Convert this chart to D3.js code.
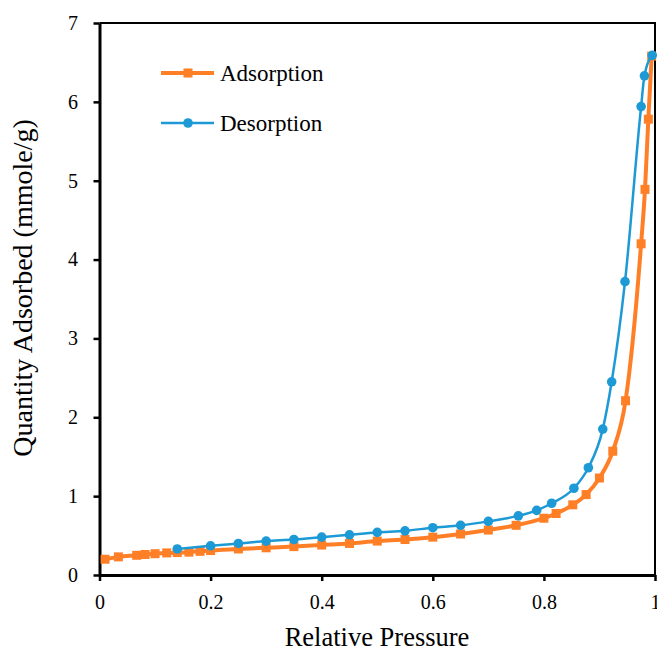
<!DOCTYPE html>
<html>
<head>
<meta charset="utf-8">
<script src="https://cdn.jsdelivr.net/npm/d3@7"></script>
<style>
  body { margin: 0; background: #fff; }
  text { font-family: "Liberation Serif", "Times New Roman", serif; }
</style>
</head>
<body>
<svg id="chart" width="657" height="651"></svg>
<script>
// isotherm data
const adsP = [0.01, 0.034, 0.067, 0.082, 0.1, 0.121, 0.14, 0.161, 0.181, 0.2, 0.25, 0.3, 0.35, 0.4, 0.45,
  0.5, 0.55, 0.6, 0.65, 0.7, 0.75, 0.8, 0.822, 0.852, 0.876, 0.9, 0.924, 0.947, 0.975, 0.982, 0.988, 0.994];
const adsQ = [0.2, 0.23, 0.25, 0.26, 0.27, 0.28, 0.285, 0.29, 0.3, 0.31, 0.33, 0.345, 0.36, 0.38, 0.4,
  0.43, 0.45, 0.48, 0.52, 0.57, 0.63, 0.72, 0.78, 0.89, 1.02, 1.23, 1.57, 2.21, 4.2, 4.89, 5.78, 6.58];
const desP = [0.14, 0.2, 0.25, 0.3, 0.35, 0.4, 0.45, 0.5, 0.55, 0.6, 0.65, 0.7, 0.754, 0.787, 0.814,
  0.854, 0.88, 0.906, 0.922, 0.946, 0.975, 0.981, 0.995];
const desQ = [0.33, 0.37, 0.4, 0.43, 0.45, 0.48, 0.51, 0.54, 0.56, 0.6, 0.63, 0.68, 0.75, 0.82, 0.91,
  1.1, 1.36, 1.85, 2.45, 3.72, 5.94, 6.33, 6.59];
const xTicks = [0, 0.2, 0.4, 0.6, 0.8, 1];
const yTicks = [0, 1, 2, 3, 4, 5, 6, 7];

const svg = d3.select("#chart");
const mLeft = 99.5, mRight = 655, mTop = 23, mBottom = 575;

const x = d3.scaleLinear().domain([0, 1]).range([mLeft, mRight]);
const y = d3.scaleLinear().domain([0, 7]).range([mBottom, mTop]);

const orange = "#FF7F27", blue = "#1D9AD6";
const serif = "'Liberation Serif', 'Times New Roman', serif";

// frame (top + right)
svg.append("path")
  .attr("d", `M${mLeft},${mTop}H${mRight}V${mBottom}`)
  .attr("fill", "none").attr("stroke", "#000").attr("stroke-width", 2);

const xAxis = svg.append("g").attr("transform", `translate(0,${mBottom})`)
  .call(d3.axisBottom(x).tickValues(xTicks).tickSize(6).tickSizeOuter(0).tickFormat(d3.format("")));
const yAxis = svg.append("g").attr("transform", `translate(${mLeft},0)`)
  .call(d3.axisLeft(y).tickValues(yTicks).tickSize(6).tickSizeOuter(0).tickFormat(d3.format("d")));

[xAxis, yAxis].forEach(g => {
  g.attr("font-family", serif);
  g.select(".domain").attr("stroke-width", 3);
  g.selectAll(".tick line").attr("stroke-width", 2.5);
  g.selectAll(".tick text").attr("font-size", 20).attr("fill", "#000");
});
xAxis.selectAll(".tick text").attr("y", 34).attr("dy", 0);
yAxis.selectAll(".tick text").attr("x", -21.5);

// axis titles
svg.append("text").attr("x", 377).attr("y", 646).attr("font-family", serif)
  .attr("text-anchor", "middle").attr("font-size", 26.5).text("Relative Pressure");
svg.append("text").attr("transform", "translate(32,288) rotate(-90)").attr("font-family", serif)
  .attr("text-anchor", "middle").attr("font-size", 28).text("Quantity Adsorbed (mmole/g)");

const line = d3.line().curve(d3.curveMonotoneX);

const ads = adsP.map((p, i) => [x(p), y(adsQ[i])]);
const des = desP.map((p, i) => [x(p), y(desQ[i])]);

svg.append("path").attr("d", line(ads)).attr("fill", "none")
  .attr("stroke", orange).attr("stroke-width", 4);
svg.append("g").selectAll("rect").data(ads).join("rect")
  .attr("x", d => d[0] - 4.5).attr("y", d => d[1] - 4.5)
  .attr("width", 9).attr("height", 9).attr("fill", orange);

svg.append("path").attr("d", line(des)).attr("fill", "none")
  .attr("stroke", blue).attr("stroke-width", 2.5);
svg.append("g").selectAll("circle").data(des).join("circle")
  .attr("cx", d => d[0]).attr("cy", d => d[1]).attr("r", 4.8).attr("fill", blue);

// legend
const legend = [
  { name: "Adsorption", color: orange, w: 4, shape: "rect", y: 73 },
  { name: "Desorption", color: blue, w: 2.5, shape: "circle", y: 123 }
];
legend.forEach(l => {
  svg.append("line").attr("x1", 161).attr("x2", 214).attr("y1", l.y).attr("y2", l.y)
    .attr("stroke", l.color).attr("stroke-width", l.w);
  if (l.shape === "rect")
    svg.append("rect").attr("x", 183.5).attr("y", l.y - 4.5).attr("width", 9).attr("height", 9).attr("fill", l.color);
  else
    svg.append("circle").attr("cx", 188).attr("cy", l.y).attr("r", 4.8).attr("fill", l.color);
  svg.append("text").attr("x", 220).attr("y", l.y + 7.5).attr("font-family", serif)
    .attr("font-size", 23).text(l.name);
});
</script>
</body>
</html>
